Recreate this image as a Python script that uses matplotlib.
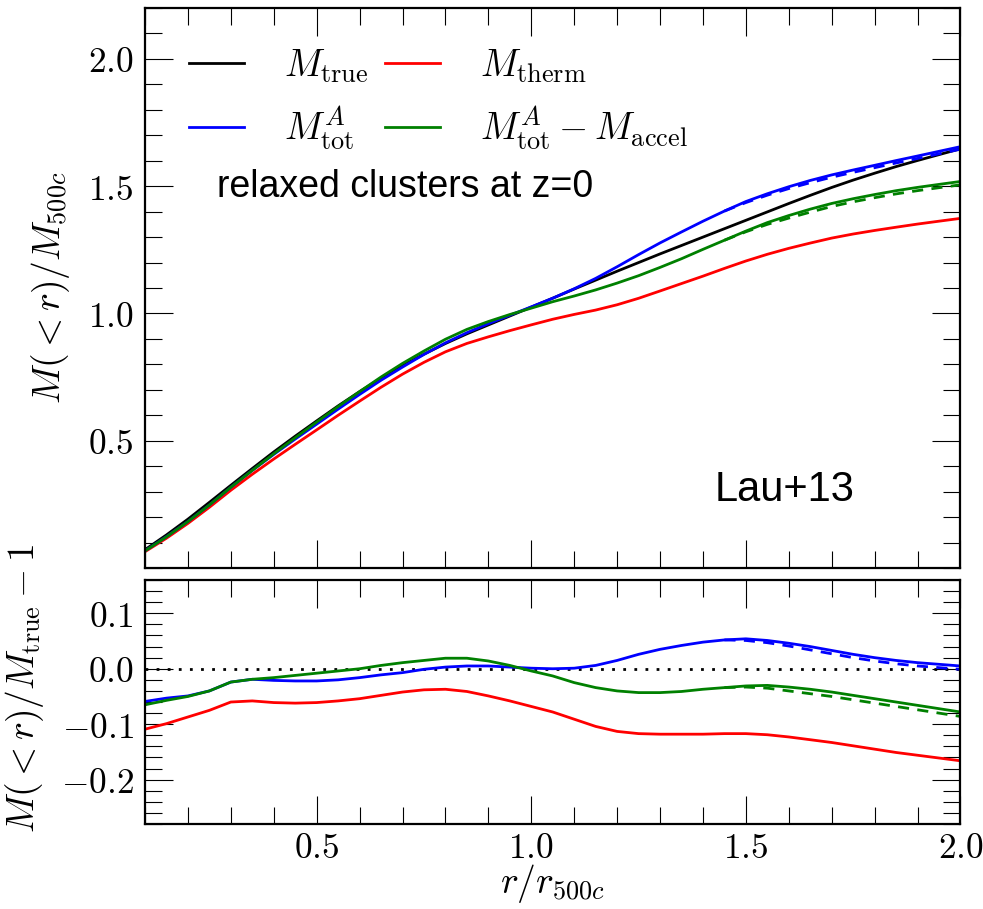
import numpy as np
import matplotlib
matplotlib.use("Agg")
import matplotlib.pyplot as plt
from matplotlib.ticker import MultipleLocator, FixedLocator, FuncFormatter

plt.rcParams["mathtext.fontset"] = "cm"
plt.rcParams["font.family"] = ["DejaVu Serif"]

# radius in units of r500c
r_grid = [0.10, 0.15, 0.20, 0.25, 0.30, 0.35, 0.40, 0.45, 0.50, 0.55,
          0.60, 0.65, 0.70, 0.75, 0.80, 0.85, 0.90, 0.95, 1.00, 1.05,
          1.10, 1.15, 1.20, 1.25, 1.30, 1.35, 1.40, 1.45, 1.50, 1.55,
          1.60, 1.65, 1.70, 1.75, 1.80, 1.85, 1.90, 1.95, 2.00]

# true enclosed mass, M(<r)/M500c
m_true = [0.072, 0.130, 0.192, 0.258, 0.325, 0.391, 0.456, 0.518, 0.578, 0.637,
          0.693, 0.746, 0.795, 0.840, 0.882, 0.920, 0.955, 0.990, 1.025, 1.060,
          1.096, 1.131, 1.166, 1.200, 1.234, 1.267, 1.300, 1.333, 1.366, 1.399,
          1.432, 1.464, 1.495, 1.524, 1.551, 1.577, 1.601, 1.624, 1.647]

# mass bias M/M_true - 1 for each estimator
bias_therm = [-0.109, -0.099, -0.087, -0.075, -0.060, -0.058, -0.061, -0.062, -0.061, -0.058,
              -0.054, -0.048, -0.042, -0.038, -0.037, -0.041, -0.049, -0.058, -0.068, -0.078,
              -0.091, -0.104, -0.113, -0.117, -0.118, -0.118, -0.118, -0.117, -0.117, -0.119,
              -0.123, -0.128, -0.133, -0.139, -0.145, -0.151, -0.156, -0.161, -0.166]
bias_tot = [-0.059, -0.053, -0.049, -0.040, -0.024, -0.019, -0.021, -0.022, -0.022, -0.020,
            -0.016, -0.011, -0.007, -0.001, 0.003, 0.005, 0.005, 0.003, 0.001, 0.000,
            0.001, 0.006, 0.015, 0.026, 0.035, 0.042, 0.048, 0.052, 0.054, 0.051,
            0.046, 0.040, 0.033, 0.026, 0.020, 0.015, 0.011, 0.008, 0.005]
bias_accel = [-0.065, -0.057, -0.050, -0.040, -0.024, -0.019, -0.016, -0.012, -0.008, -0.004,
              0.000, 0.006, 0.011, 0.015, 0.019, 0.019, 0.014, 0.006, -0.004, -0.013,
              -0.025, -0.034, -0.040, -0.043, -0.043, -0.041, -0.037, -0.034, -0.031, -0.030,
              -0.033, -0.037, -0.042, -0.048, -0.054, -0.060, -0.066, -0.072, -0.078]

# alternative profile (dashed), only differs in the outskirts
r_tail = [1.45, 1.50, 1.55, 1.60, 1.65, 1.70, 1.75, 1.80, 1.85, 1.90, 1.95, 2.00]
bias_tot_tail = [0.052, 0.051, 0.047, 0.041, 0.034, 0.027, 0.020, 0.014, 0.009, 0.005, 0.002, -0.001]
bias_accel_tail = [-0.034, -0.033, -0.035, -0.040, -0.045, -0.050, -0.056, -0.062, -0.068, -0.074, -0.080, -0.086]

r = np.array(r_grid)
mt = np.array(m_true)
mt_tail = mt[r >= 1.449]

m_therm = mt * (1 + np.array(bias_therm))
m_tot = mt * (1 + np.array(bias_tot))
m_accel = mt * (1 + np.array(bias_accel))
m_tot_tail = mt_tail * (1 + np.array(bias_tot_tail))
m_accel_tail = mt_tail * (1 + np.array(bias_accel_tail))

LW = 2.0
DASH = (4, 3)
TICK_FS = 25.5
LABEL_FS = 27
SANS = ["Liberation Sans", "DejaVu Sans"]

fig = plt.figure(figsize=(9.83, 9.09), dpi=100)
ax1 = fig.add_axes([0.1475, 0.3751, 0.8296, 0.6161])
ax2 = fig.add_axes([0.1475, 0.0935, 0.8296, 0.2684])

# upper panel: enclosed mass profiles
l_true, = ax1.plot(r, mt, color="k", lw=LW)
l_therm, = ax1.plot(r, m_therm, color="r", lw=LW)
l_tot, = ax1.plot(r, m_tot, color="b", lw=LW)
l_acc, = ax1.plot(r, m_accel, color="g", lw=LW)
ax1.plot(r_tail, m_tot_tail, color="b", lw=LW, dashes=DASH)
ax1.plot(r_tail, m_accel_tail, color="g", lw=LW, dashes=DASH)

# lower panel: fractional bias
ax2.axhline(0.0, color="k", lw=LW, dashes=(1, 3))
ax2.plot(r, bias_therm, color="r", lw=LW)
ax2.plot(r, bias_tot, color="b", lw=LW)
ax2.plot(r, bias_accel, color="g", lw=LW)
ax2.plot(r_tail, bias_tot_tail, color="b", lw=LW, dashes=DASH)
ax2.plot(r_tail, bias_accel_tail, color="g", lw=LW, dashes=DASH)

ax1.legend([l_true, l_tot, l_therm, l_acc],
           [r"$M_{\rm true}$", r"$M^A_{\rm tot}$",
            r"$M_{\rm therm}$", r"$M^A_{\rm tot}-M_{\rm accel}$"],
           ncol=2, loc="upper left", bbox_to_anchor=(0.013, 0.99),
           frameon=False, fontsize=LABEL_FS, handlelength=1.47,
           handletextpad=1.05, columnspacing=0.45, labelspacing=0.53)

ax1.text(0.088, 0.68, "relaxed clusters at z=0", transform=ax1.transAxes,
         family=SANS, fontsize=27, va="center")
ax1.text(0.698, 0.139, "Lau+13", transform=ax1.transAxes,
         family=SANS, fontsize=30, va="center")

fmt = FuncFormatter(lambda v, _: f"${v:.1f}$")

for ax in (ax1, ax2):
    ax.set_xlim(0.1, 2.0)
    ax.xaxis.set_major_locator(FixedLocator([0.5, 1.0, 1.5, 2.0]))
    ax.xaxis.set_minor_locator(MultipleLocator(0.1))
    ax.tick_params(which="both", direction="in", top=True, right=True,
                   labelsize=TICK_FS, width=0.8)
    ax.tick_params(which="major", length=20)
    ax.tick_params(which="minor", length=12)
    ax.tick_params(axis="x", which="major", pad=5)
    ax.tick_params(axis="y", which="major", pad=8)
    for sp in ax.spines.values():
        sp.set_linewidth(1.6)
    ax.yaxis.set_major_formatter(fmt)

ax1.set_ylim(0.0, 2.2)
ax1.yaxis.set_major_locator(FixedLocator([0.5, 1.0, 1.5, 2.0]))
ax1.yaxis.set_minor_locator(MultipleLocator(0.1))
ax1.tick_params(labelbottom=False)

ax2.set_ylim(-0.28, 0.16)
ax2.yaxis.set_major_locator(FixedLocator([-0.2, -0.1, 0.0, 0.1]))
ax2.yaxis.set_minor_locator(MultipleLocator(0.02))
ax2.xaxis.set_major_formatter(fmt)

ax1.set_ylabel(r"$M(<r)/M_{500c}$", fontsize=LABEL_FS)
ax2.set_ylabel(r"$M(<r)/M_{\rm true}-1$", fontsize=LABEL_FS)
ax1.yaxis.set_label_coords(-0.089, 0.5)
ax2.yaxis.set_label_coords(-0.122, 0.557)
ax2.set_xlabel(r"$r/r_{500c}$", fontsize=LABEL_FS)
ax2.xaxis.set_label_coords(0.5, -0.155)

fig.savefig("out.png", dpi=100)
